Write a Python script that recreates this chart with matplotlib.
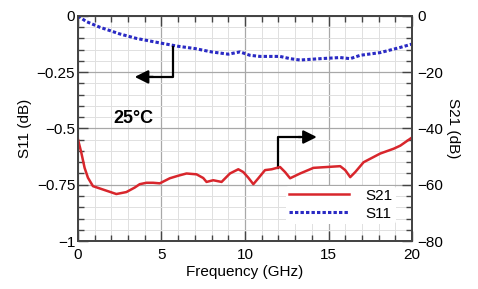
import numpy as np
import matplotlib
matplotlib.use('Agg')
import matplotlib.pyplot as plt
from matplotlib.ticker import MultipleLocator

plt.rcParams['font.family'] = ['Liberation Sans', 'DejaVu Sans']

# S11 (dB), left axis
f_s11 = [0, 0.5, 1.3, 2.5, 3.5, 4.9, 6.0, 7.0, 8.0, 9.0, 9.7, 10.3, 10.9, 12.1, 12.7, 13.3,
         14.5, 15.7, 16.3, 16.9, 18.1, 19.3, 20.0]
s11 = [0.0, -0.025, -0.05, -0.08, -0.10, -0.12, -0.135, -0.145, -0.16, -0.17, -0.16, -0.175,
       -0.18, -0.18, -0.19, -0.196, -0.19, -0.185, -0.19, -0.175, -0.163, -0.14, -0.125]

# S21 (dB), right axis
f_s21 = [0, 0.2, 0.4, 0.6, 0.9, 1.3, 1.8, 2.3, 2.9, 3.4, 3.7, 4.1, 4.5, 4.9, 5.5, 6.0, 6.5,
         7.1, 7.5, 7.7, 8.1, 8.6, 9.1, 9.6, 9.9, 10.2, 10.5, 10.8, 11.2, 11.6, 12.1, 12.4,
         12.7, 13.3, 14.1, 14.9, 15.7, 16.0, 16.3, 16.6, 17.1, 18.1, 18.9, 19.3, 20.0]
s21 = [-43.8, -48.5, -54.0, -57.5, -60.5, -61.3, -62.3, -63.3, -62.6, -61.0, -59.8, -59.3,
       -59.3, -59.5, -57.7, -56.8, -56.0, -56.3, -57.6, -59.0, -58.4, -59.0, -56.0, -54.5,
       -55.5, -57.5, -59.8, -57.7, -54.8, -54.5, -53.7, -55.5, -57.7, -56.0, -54.0, -53.7,
       -53.4, -54.8, -57.3, -55.5, -52.0, -48.9, -47.2, -46.1, -43.2]

x_ticks = [0, 5, 10, 15, 20]
left_ticks = [0, -0.25, -0.5, -0.75, -1]
left_labels = ['0', '\u22120.25', '\u22120.5', '\u22120.75', '\u22121']
right_ticks = [0, -20, -40, -60, -80]
right_labels = ['0', '\u221220', '\u221240', '\u221260', '\u221280']

red = '#d8262c'
blue = '#2a2ac4'
spine_c = '#444444'
fs = 11

fig = plt.figure(figsize=(4.78, 2.89), dpi=100)
ax = fig.add_axes([0.163, 0.166, 0.699, 0.779])
ax2 = ax.twinx()

ax.set_xlim(0, 20)
ax.set_ylim(-1, 0)
ax2.set_ylim(-80, 0)

ax.xaxis.set_minor_locator(MultipleLocator(1))
ax.yaxis.set_minor_locator(MultipleLocator(0.05))
ax2.yaxis.set_minor_locator(MultipleLocator(4))
ax.set_xticks(x_ticks)
ax.set_yticks(left_ticks)
ax.set_yticklabels(left_labels)
ax2.set_yticks(right_ticks)
ax2.set_yticklabels(right_labels)

ax.grid(which='major', color='#a8a8a8', lw=0.9)
ax.grid(which='minor', color='#e0e0e0', lw=0.7)
ax.set_axisbelow(True)

ax.tick_params(which='both', direction='in', top=True, right=False, labelsize=fs,
               color=spine_c, width=1, pad=2)
ax.tick_params(axis='x', which='both', pad=5)
ax.tick_params(which='major', length=7)
ax.tick_params(which='minor', length=4)
ax2.tick_params(which='both', direction='in', labelsize=fs, color=spine_c, width=1, pad=4)
ax2.tick_params(which='major', length=7)
ax2.tick_params(which='minor', length=4)
for a in (ax, ax2):
    for s in a.spines.values():
        s.set_color(spine_c)
        s.set_linewidth(1.3)

ax.set_xlabel('Frequency (GHz)', fontsize=fs, labelpad=2)
ax.set_ylabel('S11 (dB)', fontsize=fs, labelpad=3)
ax2.set_ylabel('S21 (dB)', fontsize=fs, rotation=270, labelpad=12)

l11, = ax.plot(f_s11, s11, color=blue, lw=2.2, ls=(0, (1.1, 0.7)), label='S11')
l21, = ax2.plot(f_s21, s21, color=red, lw=1.8, label='S21')

# arrows
ax.plot([5.7, 5.7, 4.4], [-0.138, -0.271, -0.271], color='black', lw=1.6)
ax.annotate('', xy=(3.4, -0.271), xytext=(4.5, -0.271),
            arrowprops=dict(arrowstyle='-|>', color='black', lw=1.6,
                            mutation_scale=20, shrinkA=0, shrinkB=0))
ax.plot([12.0, 12.0, 13.3], [-0.676, -0.538, -0.538], color='black', lw=1.6)
ax.annotate('', xy=(14.3, -0.538), xytext=(13.2, -0.538),
            arrowprops=dict(arrowstyle='-|>', color='black', lw=1.6,
                            mutation_scale=20, shrinkA=0, shrinkB=0))

ax.text(2.1, -0.455, '25\u00b0C', fontsize=13, fontweight='bold', ha='left', va='center')

leg = ax2.legend([l21, l11], ['S21', 'S11'], loc='upper left',
                 bbox_to_anchor=(0.6, 0.28), frameon=True, fontsize=fs,
                 handlelength=3.9, handletextpad=1.1, borderpad=0.2,
                 labelspacing=0.25)
leg.get_frame().set_facecolor('white')
leg.get_frame().set_edgecolor('none')
leg.get_frame().set_alpha(1)

fig.savefig('out.png', dpi=100)
